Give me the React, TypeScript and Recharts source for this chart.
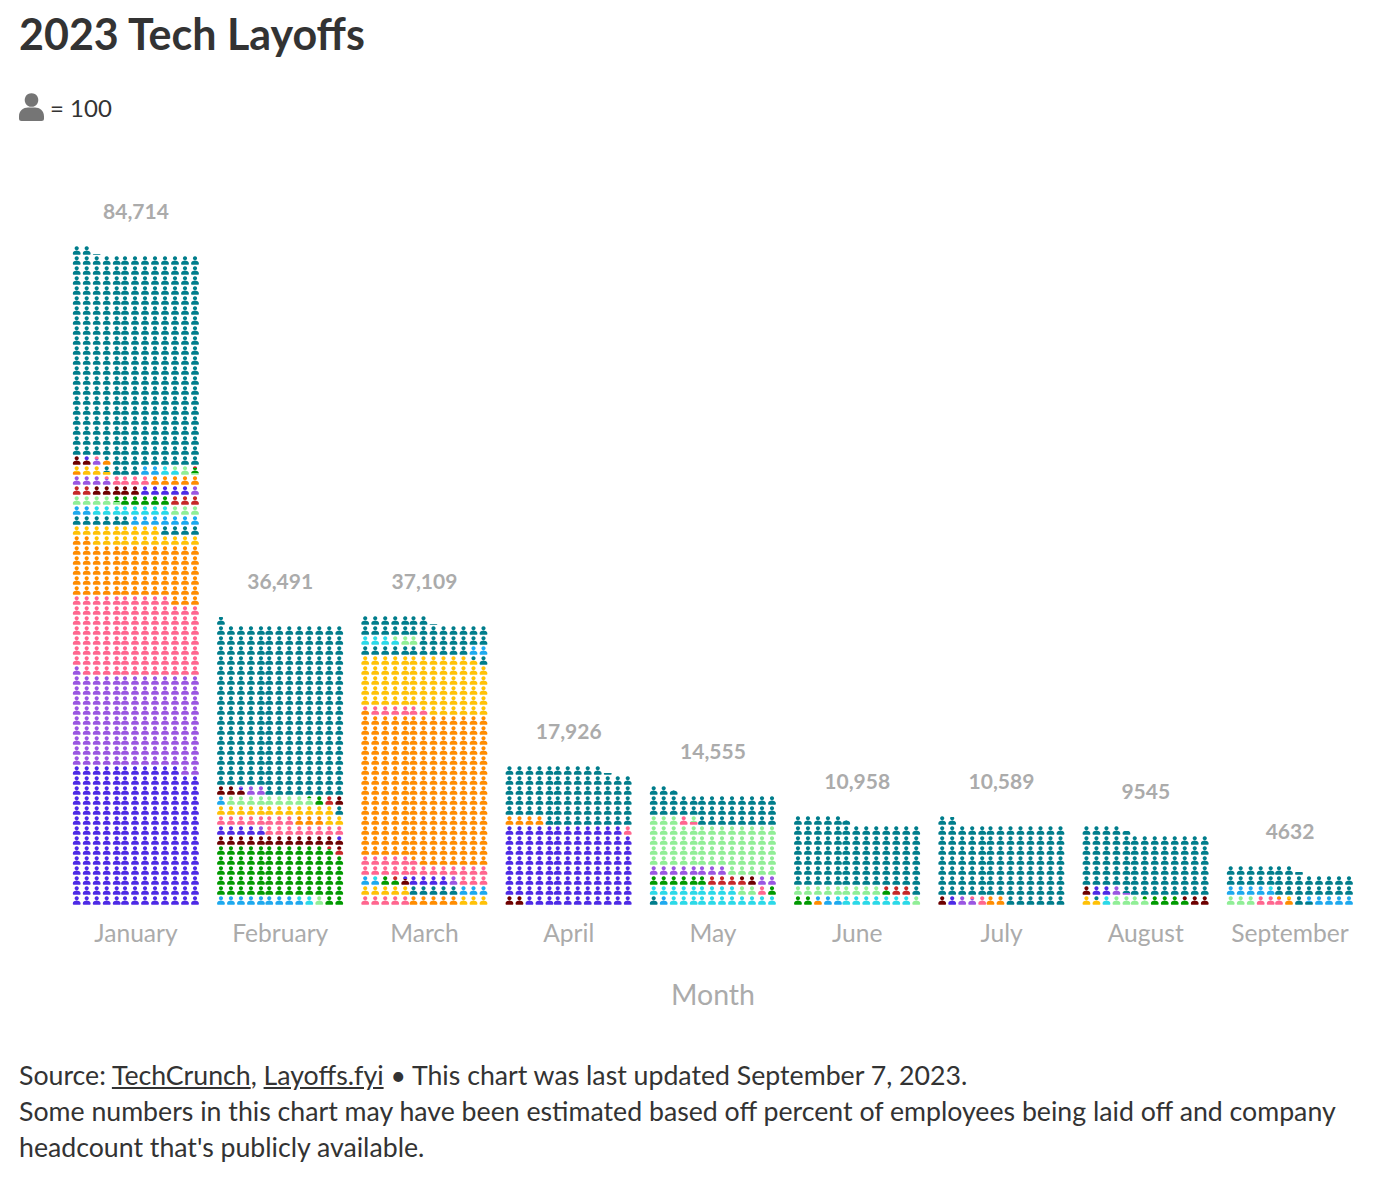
import React from "react";
import { ScatterChart, Scatter, XAxis, YAxis, Label } from "recharts";

const FONT = "Lato, sans-serif";

const teal = "#007D8C";
const blue = "#4D2AE6";
const purple = "#9A56E2";
const pink = "#FF668F";
const orange = "#FF8C00";
const yellow = "#FFC107";
const sky = "#1EA9EE";
const cyan = "#2BD9E8";
const lime = "#90EE96";
const green = "#009A00";
const red = "#C62828";
const maroon = "#6E0000";

const months = ["January", "February", "March", "April", "May", "June", "July", "August", "September"];
const totalLabels = ["84,714", "36,491", "37,109", "17,926", "14,555", "10,958", "10,589", "9545", "4632"];

// Stacks from the bottom up; sizes are in icons (1 icon = 100 people).
const januaryColors = [blue, purple, pink, orange, yellow, teal, sky, cyan, lime, green, red, maroon, blue, purple, pink, orange, yellow, teal, sky, cyan, lime, green, red, maroon, blue, purple, pink, orange, teal];
const januarySizes = [180, 120, 100, 70, 20, 10, 9, 8, 7.3, 5.7, 5, 5, 5, 4.7, 4.3, 5.3, 3, 3.7, 2, 1.6, 1.6, 0.6, 0.2, 1.5, 0.5, 0.7, 0.3, 0.5, 271.64];

const februaryColors = [sky, cyan, lime, green, red, maroon, blue, purple, pink, orange, yellow, teal, sky, lime, green, red, maroon, blue, purple, teal];
const februarySizes = [8.5, 1.5, 1, 65.7, 1, 12.8, 5.1, 0.4, 16, 3, 14, 1, 1, 8.8, 1.2, 1, 3.5, 0.3, 2.2, 216.91];

const marchColors = [pink, orange, yellow, teal, sky, cyan, green, red, maroon, blue, purple, pink, orange, pink, yellow, teal, sky, cyan, lime, teal];
const marchSizes = [5, 5, 8, 5, 4.5, 0.5, 1.5, 0.5, 0.7, 4.3, 1, 21.5, 190.1, 5.9, 70, 12.5, 2, 3.6, 2.4, 27.09];

const aprilColors = [maroon, blue, pink, orange, teal];
const aprilSizes = [2, 101, 1, 4, 71.26];

const mayColors = [teal, sky, cyan, lime, pink, green, red, maroon, purple, lime, pink, lime, teal];
const maySizes = [1, 1, 20, 2, 1, 7, 3.5, 1.5, 10, 60, 1.3, 0.7, 36.55];

const juneColors = [green, orange, sky, cyan, lime, green, red, teal];
const juneSizes = [2, 0.4, 2, 7.6, 10, 0.5, 2.5, 84.58];

const julyColors = [maroon, blue, purple, pink, orange, teal];
const julySizes = [1, 1, 1.7, 1.3, 2, 98.89];

const augustColors = [yellow, teal, cyan, lime, green, maroon, blue, purple, teal];
const augustSizes = [1.5, 0.5, 1, 3.7, 3.8, 3.5, 2, 1.2, 78.25];

const septemberColors = [lime, pink, orange, yellow, teal, sky, cyan, teal];
const septemberSizes = [3, 2.7, 1, 0.3, 1.3, 9.2, 0.5, 28.32];

const monthColors = [januaryColors, februaryColors, marchColors, aprilColors, mayColors, juneColors, julyColors, augustColors, septemberColors];
const monthSizes = [januarySizes, februarySizes, marchSizes, aprilSizes, maySizes, juneSizes, julySizes, augustSizes, septemberSizes];

const COLUMNS = 13;
const MONTH_STEP = 144.25; // pixels per month on the x scale
const monthTicks = months.map((_, i) => i + 0.5);

const columnOffset = (c: number) => ((c - 6) * 10 + (c < 5 ? 0.7 : -1)) / MONTH_STEP;

type Part = { color: string; size: number };
type Unit = { x: number; y: number; id: string; parts: Part[] };

function buildUnits(m: number): Unit[] {
  const colors = monthColors[m];
  const sizes = monthSizes[m];
  const segments: { color: string; from: number; to: number }[] = [];
  let at = 0;
  sizes.forEach((s, i) => {
    segments.push({ color: colors[i], from: at, to: at + s });
    at += s;
  });
  const units: Unit[] = [];
  const count = Math.ceil(at - 1e-6);
  for (let i = 0; i < count; i++) {
    const parts: Part[] = [];
    for (const seg of segments) {
      const lo = Math.max(seg.from, i);
      const hi = Math.min(seg.to, i + 1);
      if (hi - lo > 1e-6) parts.push({ color: seg.color, size: hi - lo });
    }
    const c = i % COLUMNS;
    const r = Math.floor(i / COLUMNS);
    units.push({ x: m + 0.5 + columnOffset(c), y: r + 0.5, id: `u${m}-${i}`, parts });
  }
  return units;
}

const allUnits = months.map((_, m) => buildUnits(m));

const totalPoints = months.map((_, m) => {
  const total = monthSizes[m].reduce((a, b) => a + b, 0);
  return { x: m + 0.5, y: Math.ceil(total / COLUMNS) + 3.5, label: totalLabels[m] };
});

const PERSON_PATH =
  "M12.5 0.2a6.8 6.8 0 1 0 0.01 0Z M0 23.5C0 17.5 4.5 14.6 9 14.6L16 14.6C20.5 14.6 25 17.5 25 23.5L25 25.5Q25 28 22.5 28L2.5 28Q0 28 0 25.5Z";

function PersonMark(props: any) {
  const { cx, cy, payload } = props;
  const parts: Part[] = payload.parts;
  const k = 0.31;
  const transform = `translate(${cx - 3.875} ${cy - 4.4}) scale(${k})`;
  const filled = parts.reduce((a, p) => a + p.size, 0);
  if (parts.length === 1 && filled > 0.999) {
    return <path d={PERSON_PATH} fill={parts[0].color} transform={transform} />;
  }
  let at = 0;
  const stops: React.ReactNode[] = [];
  parts.forEach((p, i) => {
    stops.push(<stop key={`a${i}`} offset={at} stopColor={p.color} />);
    at += p.size;
    stops.push(<stop key={`b${i}`} offset={at} stopColor={p.color} />);
  });
  if (filled < 0.999) {
    stops.push(<stop key="e1" offset={at} stopColor="#fff" stopOpacity={0} />);
    stops.push(<stop key="e2" offset={1} stopColor="#fff" stopOpacity={0} />);
  }
  return (
    <g>
      <defs>
        <linearGradient id={payload.id} x1="0" y1="1" x2="0" y2="0">
          {stops}
        </linearGradient>
      </defs>
      <path d={PERSON_PATH} fill={`url(#${payload.id})`} transform={transform} />
    </g>
  );
}

function TotalMark(props: any) {
  const { cx, cy, payload } = props;
  return (
    <text x={cx} y={cy} textAnchor="middle" dominantBaseline="central" fontFamily={FONT} fontWeight={700} fontSize={21} fill="#ABABAB">
      {payload.label}
    </text>
  );
}

const textColor = "#333333";

export default function App() {
  return (
    <div style={{ position: "absolute", left: 0, top: 0, width: 1380, height: 1178, background: "#fff", fontFamily: FONT, color: textColor, overflow: "hidden" }}>
      <div style={{ position: "absolute", left: 19, top: 9, fontSize: 43, fontWeight: 700, lineHeight: "50px", whiteSpace: "nowrap" }}>2023 Tech Layoffs</div>
      <svg style={{ position: "absolute", left: 19, top: 93 }} width={25} height={28} viewBox="0 0 25 28">
        <path d={PERSON_PATH} fill="#757575" />
      </svg>
      <div style={{ position: "absolute", left: 50, top: 92, fontSize: 24, lineHeight: "32px", whiteSpace: "nowrap" }}>= 100</div>

      <div style={{ position: "absolute", left: 0, top: 0 }}>
        <ScatterChart width={1380} height={1016} margin={{ top: 0, right: 17.875, bottom: 0, left: 63.875 }}>
          <XAxis
            dataKey="x"
            type="number"
            domain={[0, months.length]}
            ticks={monthTicks}
            interval={0}
            tickFormatter={(v: number) => months[Math.floor(v)]}
            tickLine={false}
            axisLine={false}
            tick={{ fill: "#ABABAB", fontSize: 24.6, fontFamily: FONT }}
            tickMargin={13}
            height={110.5}
          >
            <Label value="Month" position="insideBottom" offset={11} style={{ fill: "#ABABAB", fontSize: 28.5, fontFamily: FONT }} />
          </XAxis>
          <YAxis dataKey="y" type="number" domain={[0, 90.55]} hide />
          {months.map((name, m) => (
            <Scatter key={name} name={name} data={allUnits[m]} shape={PersonMark} isAnimationActive={false} />
          ))}
          <Scatter name="Totals" data={totalPoints} shape={TotalMark} isAnimationActive={false} />
        </ScatterChart>
      </div>

      <div style={{ position: "absolute", left: 19, top: 1057, width: 1345, fontSize: 26.7, lineHeight: "36px" }}>
        Source: <u>TechCrunch</u>, <u>Layoffs.fyi</u> • This chart was last updated September 7, 2023.
        <br />
        Some numbers in this chart may have been estimated based off percent of employees being laid off and company headcount that's publicly available.
      </div>
    </div>
  );
}
